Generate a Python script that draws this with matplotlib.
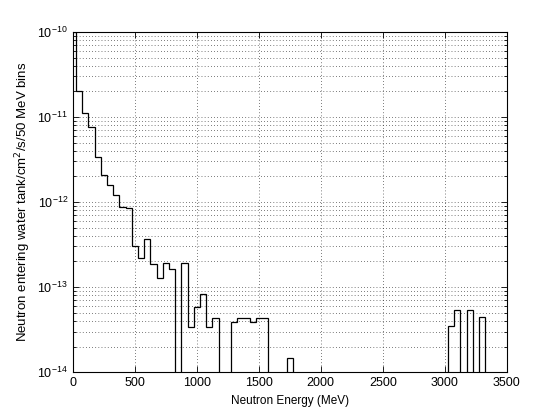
import numpy as np
import matplotlib.pyplot as plt
from matplotlib.ticker import NullFormatter

plt.rcParams['font.family'] = ['Liberation Sans', 'DejaVu Sans']

# bin centres (MeV), 50 MeV bins
bin_width = 50
bin_centres = np.arange(0, 3400, bin_width)

# flux per bin (0 = empty bin)
flux = [1.0e-10, 2.04e-11, 1.10e-11, 7.7e-12, 3.36e-12, 2.08e-12, 1.58e-12, 1.21e-12,
        8.67e-13, 8.43e-13, 3.06e-13, 2.18e-13, 3.64e-13, 1.87e-13, 1.28e-13, 1.90e-13,
        1.63e-13, 0, 1.93e-13, 3.41e-14, 5.86e-14, 8.20e-14, 3.41e-14, 4.35e-14,
        0, 0, 3.84e-14, 4.35e-14, 4.35e-14, 3.84e-14, 4.35e-14, 4.35e-14,
        0, 0, 0, 1.45e-14] + [0] * 25 + [3.47e-14, 5.32e-14, 0, 5.32e-14, 0, 4.40e-14, 0]

flux = np.array(flux)
edges = np.append(bin_centres - bin_width / 2, bin_centres[-1] + bin_width / 2)
plot_flux = np.where(flux > 0, flux, 1e-20)

fig = plt.figure(figsize=(5.6, 4.2), dpi=100)
ax = fig.add_axes([0.13, 0.114, 0.775, 0.81])

ax.stairs(plot_flux, edges, color='k', lw=0.9, baseline=None)

ax.set_yscale('log')
ax.set_xlim(0, 3500)
ax.set_ylim(1e-14, 1e-10)
ax.set_xticks(np.arange(0, 3501, 500))
decades = [1e-14, 1e-13, 1e-12, 1e-11, 1e-10]
ax.set_yticks(decades)
ax.set_yticks([d * m for d in decades[:-1] for m in range(2, 10)], minor=True)
ax.yaxis.set_minor_formatter(NullFormatter())

dots = (0, (1, 3.5))
ax.grid(True, which='major', axis='both', color='k', lw=0.5, linestyle=dots)
ax.grid(True, which='minor', axis='y', color='k', lw=0.5, linestyle=dots)

ax.tick_params(which='both', direction='in', top=True, right=True, labelsize=9, width=0.6)
ax.tick_params(which='major', length=4)
ax.tick_params(which='minor', length=2)
for s in ax.spines.values():
    s.set_linewidth(0.8)

ax.set_xlabel('Neutron Energy (MeV)', fontsize=8.5)
ax.set_ylabel('Neutron entering water tank/cm$^2$/s/50 MeV bins', fontsize=9.5, labelpad=3)

fig.savefig('out.png', dpi=100)
